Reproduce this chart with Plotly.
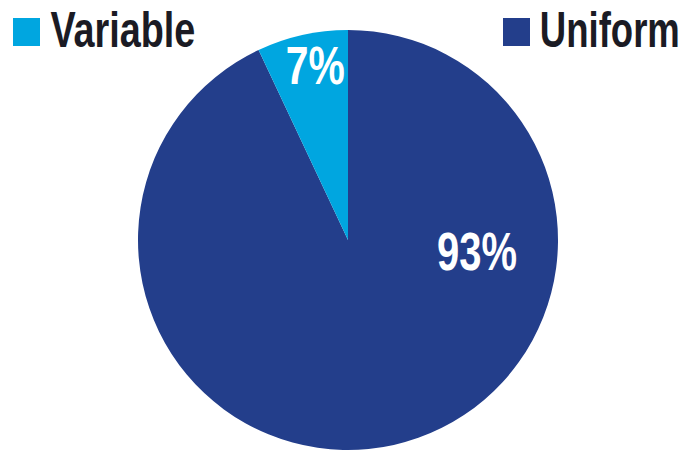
import json
import plotly.graph_objects as go

labels = ["Uniform", "Variable"]
values = [93, 7]
colors = ["#233e8b", "#00a6e0"]

W, H = 684, 456
FONT = "Liberation Sans"

# label layout (pixel centre x, centre y, squeezed width)
value_label_box = {"Uniform": (477, 251, 80), "Variable": (315, 65, 59)}
legend_box = {"Variable": (13, 40, 122.5, 145), "Uniform": (503, 530, 610, 140)}

fig = go.Figure(go.Pie(
    labels=labels, values=values,
    marker=dict(colors=colors, line=dict(width=0)),
    sort=False, direction="clockwise", rotation=0,
    textinfo="none", hoverinfo="label+percent",
    showlegend=False,
    domain=dict(x=[138 / W, 558 / W], y=[6 / H, 426 / H]),
))

annotations = []
shapes = []
widths = []
for lab, val, col in zip(labels, values, colors):
    cx, cy, w = value_label_box[lab]
    annotations.append(dict(
        x=cx / W, y=1 - cy / H, xref="paper", yref="paper", showarrow=False,
        text=f"<b>{val}%</b>", font=dict(family=FONT, size=53, color="white"),
        xanchor="center", yanchor="middle",
    ))
    widths.append(w)
    x0, x1, tcx, tw = legend_box[lab]
    shapes.append(dict(
        type="rect", xref="paper", yref="paper",
        x0=x0 / W, x1=x1 / W, y0=1 - 46 / H, y1=1 - 18 / H,
        fillcolor=col, line=dict(width=0),
    ))
    annotations.append(dict(
        x=tcx / W, y=1 - 30 / H, xref="paper", yref="paper", showarrow=False,
        text=f"<b>{lab}</b>", font=dict(family=FONT, size=50, color="#1b1b24"),
        xanchor="center", yanchor="middle",
    ))
    widths.append(tw)

fig.update_layout(
    width=W, height=H,
    margin=dict(l=0, r=0, t=0, b=0),
    paper_bgcolor="white", plot_bgcolor="white",
    annotations=annotations, shapes=shapes,
)

post = """
document.body.style.margin='0';
var gd=document.getElementById('{plot_id}');
var widths=%s;
function fix(){
  var texts=gd.querySelectorAll('g.annotation text.annotation-text');
  texts.forEach(function(t,i){
    if(widths[i]){t.setAttribute('textLength',widths[i]);t.setAttribute('lengthAdjust','spacingAndGlyphs');}
  });
}
fix(); setTimeout(fix,0);
if(gd.on){gd.on('plotly_afterplot',fix);}
""" % json.dumps(widths)

fig.write_html("out.html", post_script=post, config={"displayModeBar": False})
